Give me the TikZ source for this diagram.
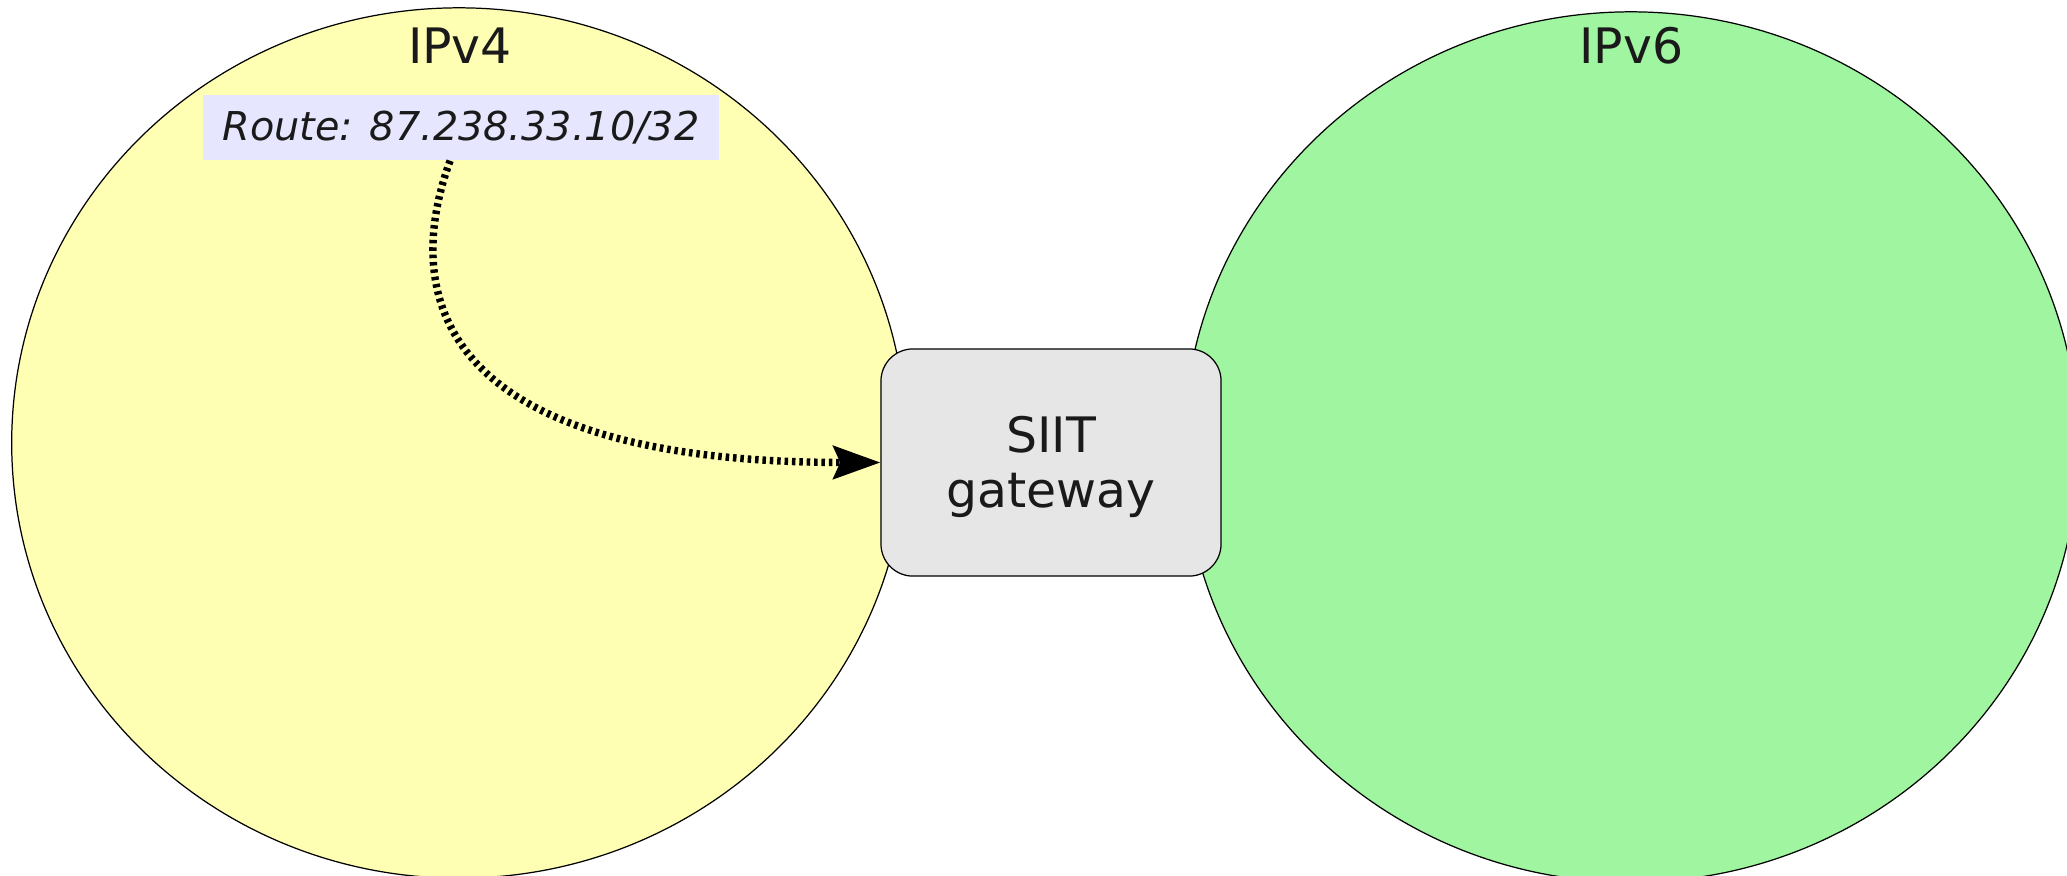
\documentclass[tikz,border=0pt]{standalone}
\usepackage{fontspec}
\setmainfont{DejaVu Sans}
\usetikzlibrary{arrows.meta,shapes.geometric}
\definecolor{netfour}{HTML}{FFFFB3}
\definecolor{netsix}{HTML}{A0F5A0}
\definecolor{gwfill}{HTML}{E6E6E6}
\definecolor{routefill}{HTML}{E6E6FF}
\definecolor{ink}{HTML}{1A1A1A}
\tikzset{
  net/.style={ellipse, draw=black, line width=0.35pt, inner sep=0pt,
    minimum width=254.4pt, minimum height=247.5pt},
  netlabel/.style={anchor=base, text=ink, inner sep=0pt,
    font=\fontsize{13.9pt}{15.4pt}\selectfont},
  gateway/.style={draw=black, line width=0.35pt, fill=gwfill, rounded corners=9.1pt,
    minimum width=96.7pt, minimum height=64.6pt, inner sep=0pt},
  gwtext/.style={align=center, inner sep=0pt, text=ink,
    font=\fontsize{13.9pt}{15.6pt}\selectfont},
  routebox/.style={fill=routefill, minimum width=146.8pt, minimum height=18.5pt,
    inner sep=0pt, text height=0.729em, text depth=0pt, text=ink,
    font=\fontsize{11.3pt}{13pt}\selectfont\itshape},
  flow/.style={line width=2.1pt, dash pattern=on 1pt off 1.1pt,
    -{Stealth[length=13.4pt, width=9.4pt, inset=2pt]}}
}
\begin{document}
\begin{tikzpicture}[x=0.01cm, y=-0.01cm]
  \useasboundingbox (0,0) rectangle (2067,875);
  \clip (0,0) rectangle (2067,875);
  % the two address families
  \node[net, fill=netfour] (v4net) at (459,443) {};
  \node[net, fill=netsix] (v6net) at (1631,447) {};
  \node[netlabel] (v4label) at (460,63) {IPv4};
  \node[netlabel] (v6label) at (1631.5,63) {IPv6};
  % translator between them
  \node[gateway, label={[gwtext, yshift=-1.3pt]center:SIIT\\gateway}] (gw) at (1051,462.5) {};
  % advertised route
  \node[routebox] (route) at (461,127.5) {Route: 87.238.33.10/32};
  \draw[flow] ([xshift=-3.1pt]route.south) .. controls (410,270) and (405,462) .. (gw.west);
\end{tikzpicture}
\end{document}
